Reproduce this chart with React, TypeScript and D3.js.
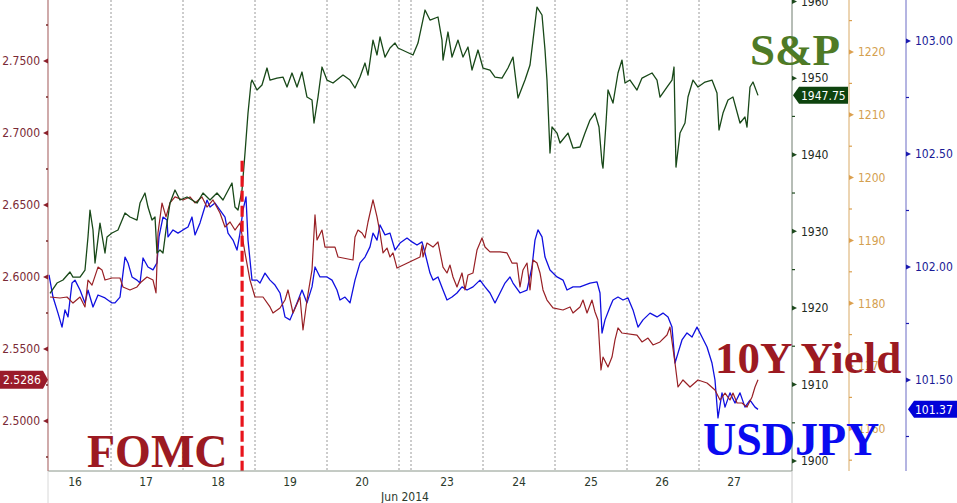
import React from 'react';
import * as d3 from 'd3';

const W = 957, H = 503;
const PL = 48, PR = 792, PT = 0, PB = 471;

// x is a trading-hour index (0 = left edge of plot)
const dayLabels = ["16", "17", "18", "19", "20", "23", "24", "25", "26", "27"];
const dayLabelHours = [9, 32.7, 56.7, 80.7, 104.7, 133, 157, 181, 204.7, 228.7];
const sessionBreaks = [21, 45, 69, 93, 117, 121, 145, 169, 193, 217];
const fomcHour = 64.7;
const monthLabel = "Jun 2014";

const yieldTicks = [2.5, 2.55, 2.6, 2.65, 2.7, 2.75];
const yieldMinor = [2.475, 2.525, 2.575, 2.625, 2.675, 2.725, 2.775];
const spxTicks = [1900, 1910, 1920, 1930, 1940, 1950, 1960];
const spxMinor = [1905, 1915, 1925, 1935, 1945, 1955];
const orangeTicks = [1160, 1170, 1180, 1190, 1200, 1210, 1220];
const orangeMinor = [1155, 1165, 1175, 1185, 1195, 1205, 1215, 1225];
const jpyTicks = [101.5, 102, 102.5, 103];
const jpyMinor = [101.25, 101.75, 102.25, 102.75];

const spx: [number, number][] = [
  [0.67, 1921.9], [3.0, 1923.25], [5.0, 1923.64], [7.33, 1924.69], [8.33, 1924.03], [10.67, 1924.03],
  [12.33, 1924.95], [13.33, 1929.26], [14.0, 1932.78], [15.0, 1930.17], [15.67, 1925.86], [17.33, 1931.08],
  [19.0, 1927.17], [19.67, 1929.26], [21.33, 1929.78], [23.33, 1930.17], [25.67, 1932.39], [27.33, 1931.87],
  [29.67, 1931.47], [30.67, 1933.69], [32.33, 1935.0], [33.33, 1933.17], [34.67, 1931.47], [35.67, 1931.87],
  [36.33, 1927.17], [37.33, 1927.56], [38.33, 1927.17], [39.33, 1930.17], [40.67, 1933.69], [42.33, 1935.39],
  [44.0, 1934.09], [46.33, 1934.48], [49.67, 1933.69], [51.67, 1935.0], [54.0, 1934.09], [56.33, 1935.0],
  [58.33, 1934.09], [61.33, 1936.31], [62.33, 1933.17], [63.33, 1932.78], [64.67, 1935.39], [65.67, 1940.22],
  [66.67, 1945.44], [67.67, 1949.36], [68.0, 1949.75], [69.67, 1948.45], [71.33, 1949.1], [73.0, 1951.32],
  [74.0, 1949.75], [76.33, 1950.01], [78.33, 1950.14], [79.67, 1948.84], [81.33, 1950.67], [83.0, 1948.84],
  [84.67, 1950.8], [86.33, 1947.53], [88.0, 1947.14], [88.67, 1944.14], [90.0, 1947.53], [91.33, 1951.45],
  [93.0, 1949.75], [95.0, 1949.36], [98.33, 1950.4], [100.67, 1949.75], [102.33, 1948.71], [104.0, 1950.14],
  [105.67, 1951.97], [106.67, 1950.4], [108.33, 1954.97], [109.67, 1953.02], [110.67, 1955.37], [112.33, 1952.75],
  [114.0, 1953.93], [115.67, 1954.58], [116.67, 1953.93], [121.67, 1953.02], [123.33, 1954.58], [125.67, 1958.89],
  [127.33, 1957.58], [130.0, 1957.98], [131.33, 1954.97], [131.67, 1952.36], [133.33, 1956.02], [134.67, 1952.75],
  [136.67, 1954.97], [138.33, 1952.75], [140.0, 1954.06], [141.33, 1951.06], [143.33, 1953.67], [145.0, 1951.32],
  [147.33, 1951.06], [149.0, 1950.14], [151.33, 1950.01], [153.33, 1951.32], [155.0, 1952.75], [156.67, 1947.4],
  [159.0, 1949.75], [160.67, 1951.71], [161.67, 1954.97], [163.0, 1959.28], [164.67, 1958.24], [165.67, 1953.67],
  [166.33, 1949.75], [167.33, 1940.22], [168.0, 1943.62], [169.67, 1942.83], [170.67, 1941.53], [173.33, 1942.83],
  [175.0, 1940.87], [177.33, 1941.01], [179.0, 1942.83], [180.67, 1944.53], [182.33, 1945.44], [183.67, 1943.62],
  [184.67, 1938.92], [185.0, 1938.26], [186.0, 1944.14], [186.67, 1948.45], [188.33, 1946.75], [190.0, 1950.67],
  [191.33, 1952.36], [192.33, 1949.36], [194.0, 1949.75], [196.33, 1948.45], [198.0, 1950.01], [201.33, 1950.67],
  [203.0, 1949.75], [204.0, 1947.53], [206.33, 1948.84], [208.0, 1949.75], [208.67, 1951.45], [209.33, 1938.39],
  [210.67, 1942.83], [212.33, 1944.14], [213.33, 1947.53], [215.0, 1949.75], [216.67, 1948.84], [219.0, 1949.49],
  [221.33, 1949.75], [223.0, 1948.05], [223.67, 1943.22], [225.0, 1945.44], [226.67, 1947.14], [228.33, 1947.53],
  [230.67, 1944.14], [232.33, 1944.92], [233.0, 1943.62], [234.0, 1948.84], [235.0, 1949.49], [236.67, 1947.75],
];

const tenY: [number, number][] = [
  [0.67, 2.5861], [4.0, 2.5854], [6.33, 2.5861], [8.33, 2.5819], [10.67, 2.5861], [12.33, 2.5792],
  [13.33, 2.5979], [14.67, 2.5944], [16.67, 2.6069], [18.0, 2.6049], [19.0, 2.5979], [21.33, 2.5993],
  [24.0, 2.5993], [25.0, 2.5931], [27.33, 2.591], [29.67, 2.5931], [30.67, 2.5958], [33.0, 2.6],
  [35.0, 2.5979], [36.0, 2.5889], [36.67, 2.6306], [38.0, 2.6514], [39.33, 2.6417], [40.67, 2.6514],
  [42.33, 2.6556], [45.0, 2.6535], [47.33, 2.6556], [49.0, 2.6514], [51.33, 2.6556], [53.0, 2.6486],
  [55.0, 2.6535], [57.33, 2.6444], [59.0, 2.6347], [60.67, 2.6382], [62.33, 2.6326], [64.0, 2.6375],
  [65.67, 2.6167], [67.33, 2.5979], [69.0, 2.5861], [71.67, 2.5861], [74.0, 2.5792], [75.0, 2.575],
  [77.33, 2.5785], [79.0, 2.584], [80.0, 2.591], [81.67, 2.575], [84.0, 2.5861], [85.0, 2.5632],
  [86.33, 2.584], [88.0, 2.6049], [89.0, 2.6431], [89.67, 2.6257], [91.33, 2.6326], [92.33, 2.6208],
  [95.67, 2.6208], [96.67, 2.6139], [98.33, 2.6132], [101.67, 2.6118], [102.33, 2.6278], [103.33, 2.6326],
  [104.67, 2.6306], [105.67, 2.6271], [106.67, 2.6382], [108.33, 2.6535], [109.67, 2.6417], [110.67, 2.6306],
  [111.67, 2.6167], [113.0, 2.6201], [114.0, 2.6139], [115.0, 2.6167], [116.33, 2.6062], [124.0, 2.6139],
  [124.67, 2.6222], [125.0, 2.6139], [126.33, 2.6236], [128.33, 2.6208], [130.0, 2.6243], [131.67, 2.6069],
  [133.0, 2.6028], [134.0, 2.6083], [135.0, 2.6], [136.33, 2.5931], [138.0, 2.6028], [139.0, 2.591],
  [140.0, 2.6014], [141.67, 2.6028], [143.0, 2.6187], [144.67, 2.6271], [145.67, 2.6208], [147.33, 2.6174],
  [150.67, 2.6174], [153.0, 2.6167], [154.67, 2.6097], [156.33, 2.6097], [157.33, 2.5931], [158.33, 2.6049],
  [159.67, 2.6097], [160.67, 2.591], [161.67, 2.6118], [163.0, 2.6097], [164.0, 2.6028], [165.0, 2.591],
  [166.33, 2.584], [168.33, 2.5785], [171.67, 2.5771], [174.0, 2.5792], [175.0, 2.575], [177.33, 2.5792],
  [178.33, 2.584], [179.67, 2.575], [181.33, 2.584], [182.33, 2.5757], [183.33, 2.5701], [184.33, 2.5354],
  [185.0, 2.5444], [186.67, 2.5375], [188.0, 2.5444], [189.0, 2.5563], [190.0, 2.5646], [191.33, 2.5611],
  [196.33, 2.5597], [198.0, 2.5549], [200.0, 2.5576], [201.67, 2.5528], [204.0, 2.5549], [206.33, 2.5597],
  [207.33, 2.5653], [209.0, 2.5403], [210.0, 2.5236], [211.67, 2.5285], [214.0, 2.5236], [216.67, 2.5285],
  [219.67, 2.5264], [222.33, 2.5215], [224.0, 2.5146], [225.67, 2.5194], [227.33, 2.5146], [228.33, 2.5194],
  [229.67, 2.5125], [231.33, 2.5125], [233.0, 2.5097], [234.67, 2.5167], [235.67, 2.5236], [236.67, 2.5286],
];

const usdjpy: [number, number][] = [
  [0.33, 101.965], [1.67, 101.867], [3.33, 101.796], [4.67, 101.734], [5.67, 101.81], [6.67, 101.779],
  [8.0, 101.929], [9.0, 101.942], [10.67, 101.898], [12.33, 101.841], [13.33, 101.898], [15.0, 101.823],
  [16.67, 101.876], [19.0, 101.863], [21.33, 101.841], [22.33, 101.841], [24.0, 101.867], [25.67, 102.044],
  [26.67, 102.018], [28.0, 101.956], [29.67, 101.942], [30.67, 101.929], [31.67, 102.04], [33.33, 102.0],
  [35.0, 101.987], [36.33, 102.018], [37.0, 102.133], [38.33, 102.221], [39.67, 102.208], [40.0, 102.133],
  [41.67, 102.164], [43.33, 102.15], [45.0, 102.164], [46.67, 102.177], [48.0, 102.221], [49.0, 102.142],
  [50.67, 102.195], [51.67, 102.239], [53.0, 102.296], [54.0, 102.265], [55.67, 102.283], [57.33, 102.252],
  [59.0, 102.221], [60.0, 102.15], [61.67, 102.119], [63.0, 102.075], [64.0, 102.15], [65.0, 102.252],
  [66.0, 102.31], [66.67, 102.119], [68.0, 101.942], [69.67, 101.942], [70.67, 101.929], [72.33, 101.973],
  [74.0, 101.942], [75.67, 101.92], [77.33, 101.885], [79.0, 101.779], [80.67, 101.766], [83.0, 101.841],
  [84.67, 101.898], [86.33, 101.841], [88.0, 101.912], [89.0, 102.0], [90.67, 101.956], [93.0, 101.956],
  [94.67, 101.942], [96.33, 101.898], [97.33, 101.854], [99.0, 101.867], [100.67, 101.841], [102.33, 101.942],
  [104.0, 102.018], [105.67, 102.044], [107.33, 102.089], [108.33, 102.15], [109.67, 102.119], [110.67, 102.186],
  [112.33, 102.142], [114.0, 102.15], [115.67, 102.075], [117.33, 102.106], [119.67, 102.128], [121.33, 102.111],
  [123.0, 102.097], [124.67, 102.111], [125.67, 102.062], [127.33, 101.973], [128.33, 101.942], [130.0, 101.956],
  [131.67, 101.898], [133.0, 101.854], [134.67, 101.867], [136.33, 101.885], [138.0, 101.912], [139.67, 101.898],
  [141.67, 101.912], [144.0, 101.942], [145.67, 101.912], [147.33, 101.885], [149.0, 101.841], [150.67, 101.885],
  [152.33, 101.929], [154.0, 101.956], [155.0, 101.929], [157.33, 101.885], [159.67, 101.898], [161.33, 102.0],
  [162.33, 102.119], [163.33, 102.164], [164.67, 102.133], [165.67, 102.044], [167.33, 101.987], [169.67, 101.956],
  [171.67, 101.942], [173.0, 101.898], [175.0, 101.912], [177.33, 101.912], [180.67, 101.929], [183.0, 101.934],
  [184.0, 101.885], [184.67, 101.708], [185.67, 101.766], [187.33, 101.823], [188.33, 101.854], [190.0, 101.867],
  [191.67, 101.854], [193.33, 101.863], [195.0, 101.81], [196.67, 101.734], [198.33, 101.766], [200.67, 101.796],
  [203.0, 101.779], [205.0, 101.796], [206.67, 101.779], [208.0, 101.734], [209.0, 101.575], [210.0, 101.619],
  [211.33, 101.677], [213.0, 101.708], [214.67, 101.69], [216.33, 101.734], [218.0, 101.69], [219.67, 101.646],
  [221.33, 101.575], [222.33, 101.5], [223.33, 101.332], [224.67, 101.443], [225.67, 101.38], [227.33, 101.443],
  [229.0, 101.398], [230.67, 101.443], [232.33, 101.38], [234.0, 101.411], [235.67, 101.38], [236.67, 101.37],
];

const lastYield = 2.5286;
const lastSpx = 1947.75;
const lastJpy = 101.37;

const AX_FONT = "'DejaVu Sans Condensed', 'DejaVu Sans', 'Liberation Sans', sans-serif";
const BIG_FONT = "'Liberation Serif', 'DejaVu Serif', serif";

export default function App() {
  const x = d3.scaleLinear().domain([0, 248]).range([PL, PR]);
  const yY = d3.scaleLinear().domain([2.46528, 2.79236]).range([PB, PT]);
  const yS = d3.scaleLinear().domain([1898.71, 1960.2]).range([PB, PT]);
  const yO = d3.scaleLinear().domain([1153.28, 1228.28]).range([PB, PT]);
  const yJ = d3.scaleLinear().domain([101.0973, 103.1814]).range([PB, PT]);

  const mk = (ys: d3.ScaleLinear<number, number>) =>
    d3.line<[number, number]>().x(d => x(d[0])).y(d => ys(d[1]));

  const greenX = PR, orangeX = 849, blueX = 906;
  const fx = x(fomcHour);

  const rightAxis = (
    ax: number, sc: d3.ScaleLinear<number, number>, major: number[], minor: number[],
    lineCol: string, triCol: string, txtCol: string, fmt: (n: number) => string, key: string
  ) => (
    <g key={key}>
      <line x1={ax} x2={ax} y1={0} y2={PB} stroke={lineCol} strokeWidth={1} />
      {minor.map(v => (
        <line key={'m' + v} x1={ax} x2={ax + 3} y1={sc(v)} y2={sc(v)} stroke={triCol} strokeWidth={1.2} />
      ))}
      {major.map(v => (
        <g key={'M' + v}>
          <path d={`M${ax},${sc(v) - 2.5} L${ax + 5},${sc(v)} L${ax},${sc(v) + 2.5} Z`} fill={triCol} />
          <text x={ax + 9} y={sc(v)} dy="0.36em" fontSize={12} fontFamily={AX_FONT} fill={txtCol}>{fmt(v)}</text>
        </g>
      ))}
    </g>
  );

  return (
    <svg width={W} height={H} style={{ position: 'absolute', left: 0, top: 0, background: '#fff' }}>
      <defs>
        <filter id="blur" x="-5" y="-1" width="10" height="3">
          <feGaussianBlur stdDeviation="1.6" />
        </filter>
        <clipPath id="plot"><rect x={PL} y={PT} width={PR - PL} height={PB - PT} /></clipPath>
      </defs>
      <rect x={0} y={0} width={W} height={H} fill="#fff" />

      {/* session gridlines */}
      {sessionBreaks.map(h => (
        <line key={h} x1={x(h)} x2={x(h)} y1={PT} y2={PB} stroke="#9a9a9a" strokeWidth={1} strokeDasharray="2,2" />
      ))}

      {/* series */}
      <g clipPath="url(#plot)">
        <path d={mk(yJ)(usdjpy) || ''} fill="none" stroke="#1010e0" strokeWidth={1.3} strokeLinejoin="round" />
        <path d={mk(yY)(tenY) || ''} fill="none" stroke="#982025" strokeWidth={1.2} strokeLinejoin="round" />
        <path d={mk(yS)(spx) || ''} fill="none" stroke="#184818" strokeWidth={1.3} strokeLinejoin="round" />
      </g>

      {/* FOMC marker */}
      <line x1={fx + 5} x2={fx + 5} y1={yS(1939.2)} y2={PB + 8} stroke="#999" strokeWidth={4} opacity={0.6} filter="url(#blur)" />
      <line x1={fx} x2={fx} y1={yS(1939.2)} y2={PB} stroke="#e8141c" strokeWidth={3.2} strokeDasharray="11,4" />

      {/* x axis */}
      <line x1={PL} x2={PR} y1={PB} y2={PB} stroke="#8a968a" strokeWidth={1} />
      <line x1={PL} x2={PL} y1={PB} y2={H} stroke="#d8d8d8" strokeWidth={1} />
      <line x1={PR} x2={PR} y1={PB} y2={H} stroke="#c8c8c8" strokeWidth={1} />
      {dayLabels.map((d, i) => (
        <text key={d} x={x(dayLabelHours[i])} y={482} dy="0.36em" textAnchor="middle" fontSize={12} fontFamily={AX_FONT} fill="#2b3a2b">{d}</text>
      ))}
      <text x={405} y={497} dy="0.36em" textAnchor="middle" fontSize={12} fontFamily={AX_FONT} fill="#2b3a2b">{monthLabel}</text>

      {/* left axis (10Y yield) */}
      <line x1={PL} x2={PL} y1={0} y2={PB} stroke="#b07272" strokeWidth={1.2} />
      {yieldMinor.map(v => (
        <line key={'ym' + v} x1={PL - 2} x2={PL} y1={yY(v)} y2={yY(v)} stroke="#7a2a2a" strokeWidth={1.3} />
      ))}
      {yieldTicks.map(v => (
        <g key={'y' + v}>
          <path d={`M${PL},${yY(v) - 2.5} L${PL - 5},${yY(v)} L${PL},${yY(v) + 2.5} Z`} fill="#8b1f2a" />
          <text x={40} y={yY(v)} dy="0.36em" textAnchor="end" fontSize={12} fontFamily={AX_FONT} fill="#7a2a35">{d3.format('.4f')(v)}</text>
        </g>
      ))}

      {rightAxis(greenX, yS, spxTicks, spxMinor, '#6f7d6f', '#1e4a1e', '#1e2b1e', d3.format('d'), 'g')}
      {rightAxis(orangeX, yO, orangeTicks, orangeMinor, '#d9aa66', '#dba050', '#d4a050', d3.format('d'), 'o')}
      {rightAxis(blueX, yJ, jpyTicks, jpyMinor, '#6a6ac4', '#1a1ab0', '#1a1a96', d3.format('.2f'), 'b')}

      {/* last-value flags */}
      <g>
        <path d={`M0,${yY(lastYield) - 9} L43,${yY(lastYield) - 9} L48,${yY(lastYield)} L43,${yY(lastYield) + 9} L0,${yY(lastYield) + 9} Z`} fill="#9a1b2a" />
        <text x={3} y={yY(lastYield)} dy="0.36em" fontSize={12} fontFamily={AX_FONT} fill="#fff">{d3.format('.4f')(lastYield)}</text>
      </g>
      <g>
        <path d={`M${greenX + 1},${yS(lastSpx)} L${greenX + 7},${yS(lastSpx) - 8.5} L${greenX + 56},${yS(lastSpx) - 8.5} L${greenX + 56},${yS(lastSpx) + 8.5} L${greenX + 7},${yS(lastSpx) + 8.5} Z`} fill="#0e430e" />
        <text x={greenX + 9} y={yS(lastSpx)} dy="0.36em" fontSize={12} fontFamily={AX_FONT} fill="#fff">{d3.format('.2f')(lastSpx)}</text>
      </g>
      <g>
        <path d={`M${blueX + 2},${yJ(lastJpy)} L${blueX + 8},${yJ(lastJpy) - 8.5} L${W},${yJ(lastJpy) - 8.5} L${W},${yJ(lastJpy) + 8.5} L${blueX + 8},${yJ(lastJpy) + 8.5} Z`} fill="#0202d8" />
        <text x={blueX + 9} y={yJ(lastJpy)} dy="0.36em" fontSize={12} fontFamily={AX_FONT} fill="#fff">{d3.format('.2f')(lastJpy)}</text>
      </g>

      {/* big labels */}
      <text x={750} y={65} fontSize={45} fontWeight="bold" fontFamily={BIG_FONT} fill="#4e7a26">S&amp;P</text>
      <text x={715} y={373} fontSize={45} fontWeight="bold" fontFamily={BIG_FONT} fill="#9c1a22">10Y Yield</text>
      <text x={703} y={455} fontSize={46} fontWeight="bold" fontFamily={BIG_FONT} fill="#0a0af0">USDJPY</text>
      <text x={87} y={467} fontSize={46} fontWeight="bold" fontFamily={BIG_FONT} fill="#9c1a22">FOMC</text>
    </svg>
  );
}
